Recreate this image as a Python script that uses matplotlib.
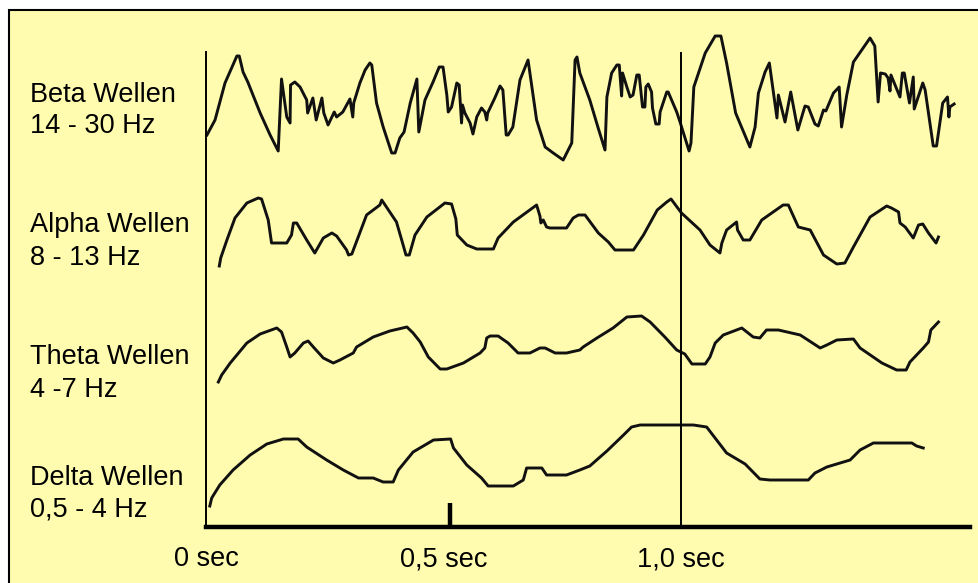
import numpy as np
import matplotlib
matplotlib.use('Agg')
import matplotlib.pyplot as plt
from matplotlib.patches import Rectangle

plt.rcParams['font.family'] = ['Liberation Sans', 'DejaVu Sans']

# EEG traces: time in ms, amplitude in arbitrary units
beta_t = [2, 19, 40, 65, 70, 78, 88, 114, 135, 152, 159, 170, 177, 178, 187, 198, 212, 214,
          225, 232, 244, 248, 257, 270, 275, 288, 303, 309, 311, 324, 335, 345, 349, 359, 373,
          391, 398, 408, 417, 430, 444, 448, 461, 478, 491, 499, 507, 510, 517, 528, 533, 538,
          540, 545, 556, 562, 570, 580, 587, 591, 593, 608, 619, 625, 632, 636, 646, 661, 678,
          696, 714, 731, 752, 770, 777, 781, 787, 808, 825, 840, 844, 854, 865, 870, 875, 877,
          886, 893, 899, 907, 912, 919, 924, 926, 931, 938, 940, 947, 954, 956, 970, 973, 991,
          998, 1017, 1021, 1027, 1051, 1072, 1084, 1096, 1115, 1145, 1156, 1163, 1177, 1186,
          1202, 1205, 1219, 1231, 1246, 1261, 1268, 1282, 1289, 1300, 1305, 1321, 1333, 1338,
          1349, 1363, 1398, 1408, 1415, 1420, 1430, 1436, 1440, 1442, 1461, 1466, 1470, 1481,
          1489, 1491, 1509, 1514, 1531, 1538, 1551, 1561, 1564, 1566, 1575]
beta_v = [-35, -20, 17, 44, 44, 28, 18, -13, -35, -51, 21, -17, -23, 15, 18, 13, 0, -13,
          2, -20, 2, -13, -25, -12, -17, -12, 1, -17, -3, 17, 30, 37, 35, -3, -27,
          -53, -53, -38, -32, -3, 21, -32, 0, 18, 33, 33, 5, -12, -7, 17, 15, -23,
          -5, -13, -23, -34, -17, -8, -12, -20, -13, 2, 14, 10, -35, -35, -27, 20, 40,
          -20, -47, -53, -60, -43, 40, 43, 27, 0, -27, -50, 3, 27, 35, 35, 4, 27,
          13, 3, 5, 25, 25, -7, -7, 13, 16, 8, -8, -24, -24, -12, 8, 8, -12,
          -22, -51, -43, 13, 47, 64, 64, 37, -13, -47, -27, 7, 28, 37,
          -18, 5, -22, 8, -30, -6, -7, -24, -26, -10, -11, 7, 13, -27,
          5, 38, 62, 54, -2, 27, 26, 22, 9, 25, 3, 27, 27, -3,
          23, -9, 17, 10, -46, -46, -3, 3, -17, -7, -4]

alpha_t = [28, 31, 44, 61, 86, 110, 117, 131, 138, 170, 180, 184, 191, 212, 229, 247, 265,
           275, 296, 300, 307, 338, 366, 370, 401, 412, 421, 428, 440, 465, 503, 517, 526,
           529, 549, 570, 605, 615, 647, 696, 703, 705, 710, 717, 724, 759, 773, 784, 798,
           826, 847, 861, 900, 921, 950, 970, 979, 1001, 1040, 1061, 1082, 1086, 1096, 1117,
           1119, 1131, 1145, 1170, 1194, 1215, 1226, 1247, 1272, 1300, 1328, 1345, 1363,
           1398, 1433, 1443, 1458, 1461, 1472, 1489, 1500, 1509, 1521, 1537, 1542]
alpha_v = [-36, -28, -10, 12, 27, 32, 31, 10, -13, -13, -5, 7, 7, -10, -23, -8, -3,
           -6, -20, -25, -24, 15, 25, 30, 8, -10, -25, -25, -5, 13, 27, 26, 11,
           -5, -15, -19, -19, -8, 8, 25, 14, 7, 10, 3, 2, 2, 12, 15, 15,
           -3, -12, -20, -20, -5, 20, 28, 31, 17, 0, -15, -23, -13, 0, 8,
           0, -10, -10, 10, 18, 25, 25, 3, 0, -25, -34, -33, -17,
           13, 24, 22, 18, 7, 3, -8, 5, 6, -3, -13, -7]

theta_t = [26, 33, 51, 86, 114, 149, 159, 170, 177, 187, 205, 215, 226, 247, 268, 282, 310,
           317, 352, 387, 423, 436, 451, 468, 493, 507, 542, 577, 587, 591, 598, 615, 636,
           657, 682, 703, 714, 735, 759, 787, 794, 823, 857, 886, 917, 935, 966, 991, 1008,
           1023, 1051, 1061, 1072, 1089, 1128, 1152, 1166, 1180, 1205, 1251, 1293, 1307,
           1328, 1363, 1377, 1423, 1454, 1474, 1482, 1510, 1521, 1526, 1542]
theta_v = [-32, -25, -13, 7, 16, 22, 18, 3, -7, -3, 7, 9, 3, -8, -13, -10, -3,
           3, 13, 19, 23, 17, 8, -7, -19, -19, -13, -3, 2, 12, 14, 14, 7,
           -3, -3, 2, 2, -3, -3, 0, 3, 12, 22, 33, 34, 28, 13, 0, -4,
           -14, -14, -7, 7, 15, 22, 13, 12, 20, 20, 15, 2, 5,
           10, 11, 2, -13, -20, -20, -12, 2, 8, 20, 28]

delta_t = [8, 12, 29, 57, 93, 128, 163, 194, 212, 254, 289, 321, 352, 373, 394, 405, 436,
           479, 515, 521, 549, 580, 594, 647, 668, 675, 707, 717, 759, 787, 808, 844, 879,
           896, 914, 1026, 1054, 1075, 1096, 1135, 1166, 1187, 1268, 1282, 1307, 1356, 1377,
           1405, 1486, 1496, 1510]
delta_v = [-41, -33, -20, -5, 10, 21, 26, 26, 18, 5, -5, -13, -13, -17, -17, -5, 13,
           25, 26, 17, 0, -13, -21, -21, -15, -3, -3, -10, -10, -5, -1, 14, 30,
           38, 40, 40, 38, 25, 12, 1, -14, -15, -15, -8, -2, 5, 15,
           22, 22, 19, 17]

labels = [('Beta Wellen', '14 - 30 Hz'),
          ('Alpha Wellen', '8 - 13 Hz'),
          ('Theta Wellen', '4 -7 Hz'),
          ('Delta Wellen', '0,5 - 4 Hz')]
tick_ms = [0, 500, 1000]
tick_labels = ['0 sec', '0,5 sec', '1,0 sec']
half_sec_mark = [513]  # the small marker, drawn slightly right of 0.5 s in the original

# layout
W, H = 979, 583
offsets = [427, 297, 177, 62]
label_base = [(101.7, 133.3), (231.7, 265), (364, 396.7), (485, 516)]
yellow = '#FFFCB0'

fig = plt.figure(figsize=(W / 100, H / 100), dpi=100, facecolor='white')
fig.add_artist(Rectangle((9 / W, -0.1), 1.2, (H - 10) / H + 0.1, transform=fig.transFigure,
                         facecolor=yellow, edgecolor='black', lw=1.5, zorder=0))

ax = fig.add_axes([206 / W, 56 / H, 764 / W, 475 / H])
ax.set_facecolor('none')
ax.set_xlim(0, 764 * 1000 / 475)
ax.set_ylim(0, 475)

for t, v, off in zip([beta_t, alpha_t, theta_t, delta_t],
                     [beta_v, alpha_v, theta_v, delta_v], offsets):
    ax.plot(t, np.array(v) + off, color='#111111', lw=2.1, clip_on=False)

ax.axvline(1000, color='black', lw=1.4)

for s in ['top', 'right']:
    ax.spines[s].set_visible(False)
ax.spines['left'].set_linewidth(1.4)
ax.spines['bottom'].set_linewidth(3.2)
ax.set_yticks([])
ax.set_xticks(tick_ms)
ax.set_xticklabels(tick_labels, fontsize=19.5)
ax.set_xticks(half_sec_mark, minor=True)
ax.tick_params(axis='x', which='major', length=0, pad=14)
ax.tick_params(axis='x', which='minor', direction='in', length=17, width=3.2, color='black')

for (l1, l2), (b1, b2) in zip(labels, label_base):
    fig.text(30 / W, 1 - b1 / H, l1, fontsize=19.5, va='baseline', ha='left')
    fig.text(30 / W, 1 - b2 / H, l2, fontsize=19.5, va='baseline', ha='left')

fig.savefig('out.png', dpi=100, facecolor='white')
